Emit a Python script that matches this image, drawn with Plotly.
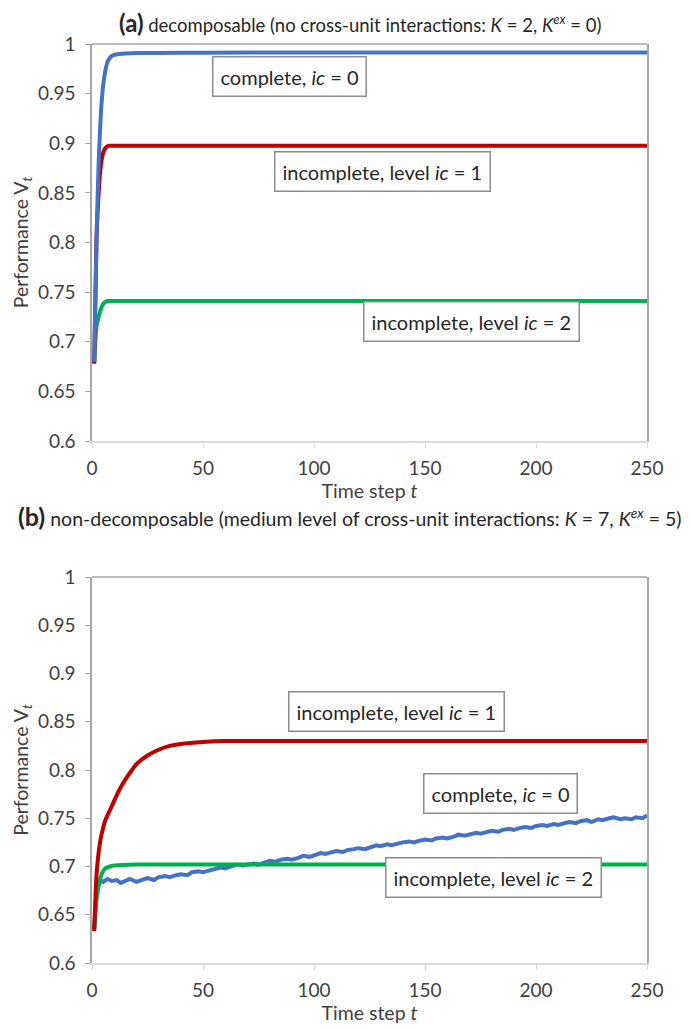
import plotly.graph_objects as go
from plotly.subplots import make_subplots

# ---- data: panel (a) ----
a_blue_t = [1, 2, 3, 4, 5, 6, 7, 8, 9, 10, 12, 15, 20, 30, 50, 100, 150, 200, 250]
a_blue_v = [0.68, 0.80, 0.88, 0.93, 0.958, 0.973, 0.982, 0.986, 0.988, 0.989, 0.990, 0.9905, 0.991, 0.991, 0.9912, 0.9915, 0.9915, 0.9915, 0.9915]
a_red_t = [1, 2, 3, 4, 5, 6, 7, 8, 10, 20, 50, 100, 150, 200, 250]
a_red_v = [0.678, 0.80, 0.85, 0.878, 0.890, 0.895, 0.897, 0.8975, 0.8975, 0.8975, 0.8975, 0.8975, 0.8975, 0.8975, 0.8975]
a_green_t = [1, 2, 3, 4, 5, 6, 7, 8, 10, 20, 50, 100, 150, 200, 250]
a_green_v = [0.678, 0.715, 0.725, 0.733, 0.738, 0.740, 0.741, 0.741, 0.741, 0.741, 0.741, 0.741, 0.741, 0.741, 0.741]

# ---- data: panel (b) ----
b_red_t = [1, 2, 3, 4, 5, 6, 8, 10, 12, 15, 18, 20, 25, 30, 35, 40, 50, 60, 80, 100, 150, 200, 250]
b_red_v = [0.633, 0.69, 0.715, 0.73, 0.74, 0.748, 0.758, 0.768, 0.778, 0.79, 0.80, 0.806, 0.815, 0.821, 0.825, 0.827, 0.829, 0.83, 0.83, 0.83, 0.83, 0.83, 0.83]
b_green_t = [1, 2, 3, 4, 5, 6, 8, 10, 20, 50, 100, 150, 200, 250]
b_green_v = [0.635, 0.665, 0.68, 0.69, 0.695, 0.698, 0.70, 0.701, 0.702, 0.702, 0.702, 0.702, 0.702, 0.702]
b_blue_t = [1, 2, 3, 4, 5, 7, 9, 11, 13, 15,
            17, 20, 23, 25, 28, 30, 33, 35, 38, 40,
            43, 45, 48, 50, 53, 55, 58, 60, 63, 65,
            68, 70, 73, 75, 78, 80, 83, 85, 88, 90,
            93, 95, 98, 100, 103, 105, 108, 110, 113, 115,
            118, 120, 123, 125, 128, 130, 133, 135, 138, 140,
            143, 145, 148, 150, 153, 155, 158, 160, 163, 165,
            168, 170, 173, 175, 178, 180, 183, 185, 188, 190,
            193, 195, 198, 200, 203, 205, 208, 210, 213, 215,
            218, 220, 223, 225, 228, 230, 233, 235, 238, 240,
            243, 245, 248, 250]
b_blue_v = [0.635, 0.672, 0.682, 0.686, 0.684, 0.687, 0.685, 0.686, 0.683, 0.685,
            0.687, 0.684, 0.686, 0.688, 0.686, 0.689, 0.690, 0.689, 0.691, 0.692,
            0.691, 0.694, 0.695, 0.694, 0.696, 0.697, 0.699, 0.698, 0.700, 0.702,
            0.701, 0.702, 0.703, 0.702, 0.704, 0.706, 0.705, 0.707, 0.708, 0.707,
            0.709, 0.711, 0.710, 0.712, 0.714, 0.713, 0.715, 0.716, 0.715, 0.717,
            0.718, 0.719, 0.718, 0.720, 0.722, 0.721, 0.723, 0.722, 0.724, 0.725,
            0.726, 0.725, 0.727, 0.728, 0.727, 0.729, 0.730, 0.729, 0.731, 0.733,
            0.732, 0.733, 0.735, 0.734, 0.736, 0.737, 0.736, 0.738, 0.739, 0.738,
            0.740, 0.741, 0.740, 0.742, 0.743, 0.742, 0.744, 0.743, 0.745, 0.746,
            0.745, 0.747, 0.748, 0.746, 0.749, 0.748, 0.750, 0.751, 0.749, 0.750,
            0.749, 0.751, 0.750, 0.753]

y_ticks = [0.6, 0.65, 0.7, 0.75, 0.8, 0.85, 0.9, 0.95, 1]
y_ticktext = ["0.6", "0.65", "0.7", "0.75", "0.8", "0.85", "0.9", "0.95", "1"]
x_ticks = [0, 50, 100, 150, 200, 250]

BLUE = "#4472C4"
RED = "#C00000"
GREEN = "#00B050"
FONT = "Lato"

fig = make_subplots(rows=2, cols=1, vertical_spacing=0.148)

def add(t, v, color, row, shape="spline"):
    line = dict(color=color, width=4, shape=shape)
    if shape == "spline":
        line["smoothing"] = 0.6
    fig.add_trace(go.Scatter(x=t, y=v, mode="lines", line=line,
                             showlegend=False, hoverinfo="skip"), row=row, col=1)

add(a_green_t, a_green_v, GREEN, 1)
add(a_red_t, a_red_v, RED, 1)
add(a_blue_t, a_blue_v, BLUE, 1)
add(b_blue_t, b_blue_v, BLUE, 2, shape="linear")
add(b_green_t, b_green_v, GREEN, 2)
add(b_red_t, b_red_v, RED, 2)

ax_font = dict(family=FONT, size=19, color="#404040")
for r in (1, 2):
    fig.update_xaxes(row=r, col=1, range=[0, 250], tickvals=x_ticks, showgrid=False, zeroline=False,
                     showline=True, linecolor="#d9d9d9", linewidth=1.5, ticks="outside", ticklen=5,
                     tickcolor="#d9d9d9", tickfont=ax_font, ticklabelstandoff=4,
                     title=dict(text="Time step <i>t</i>", font=dict(family=FONT, size=19.5, color="#404040"), standoff=6))
    fig.update_yaxes(row=r, col=1, range=[0.6, 1], tickvals=y_ticks, ticktext=y_ticktext, showgrid=False,
                     zeroline=False, showline=True, linecolor="#a6a6a6", linewidth=1.5, mirror=True,
                     ticks="outside", ticklen=5, tickcolor="#a6a6a6", tickfont=ax_font, ticklabelstandoff=6,
                     title=dict(text="Performance V<sub><i>t</i></sub>", font=dict(family=FONT, size=19.5, color="#404040"), standoff=4))

# top border lines
for xr, yr in (("x domain", "y domain"), ("x2 domain", "y2 domain")):
    fig.add_shape(type="line", xref=xr, yref=yr, x0=0, x1=1, y0=1, y1=1,
                  line=dict(color="#a6a6a6", width=1.5))

def box(text, x, y, xref, yref):
    fig.add_annotation(text=text, x=x, y=y, xref=xref, yref=yref, showarrow=False,
                       font=dict(family=FONT, size=20, color="#262626"),
                       bgcolor="white", bordercolor="#8c8c8c", borderwidth=1.5, borderpad=7)

box("complete, <i>ic</i> = 0", 89, 0.967, "x", "y")
box("incomplete, level <i>ic</i> = 1", 131, 0.872, "x", "y")
box("incomplete, level <i>ic</i> = 2", 171, 0.720, "x", "y")
box("incomplete, level <i>ic</i> = 1", 137, 0.861, "x2", "y2")
box("complete, <i>ic</i> = 0", 184, 0.776, "x2", "y2")
box("incomplete, level <i>ic</i> = 2", 181, 0.689, "x2", "y2")

fig.add_annotation(text="<span style='font-size:24px'><b>(a)</b></span> decomposable (no cross-unit interactions: <i>K</i> = 2, <i>K</i><sup><i>ex</i></sup> = 0)",
                   x=(356 - 86) / 560, y=1 + (43 - 21) / 919, xref="paper", yref="paper", showarrow=False,
                   xanchor="center", yanchor="middle",
                   font=dict(family=FONT, size=18.5, color="#262626"))
fig.add_annotation(text="<span style='font-size:25px'><b>(b)</b></span> non-decomposable (medium level of cross-unit interactions: <i>K</i> = 7, <i>K</i><sup><i>ex</i></sup> = 5)",
                   x=(346 - 86) / 560, y=(962 - 515) / 919, xref="paper", yref="paper", showarrow=False,
                   xanchor="center", yanchor="middle",
                   font=dict(family=FONT, size=19.5, color="#262626"))

fig.update_layout(width=691, height=1029, margin=dict(l=79, r=52, t=36, b=74),
                  plot_bgcolor="white", paper_bgcolor="white", font=dict(family=FONT))
fig.update_yaxes(domain=[(962 - 440) / 919, 1], row=1, col=1)
fig.update_yaxes(domain=[0, (962 - 576) / 919], row=2, col=1)

fig.write_html("out.html")
